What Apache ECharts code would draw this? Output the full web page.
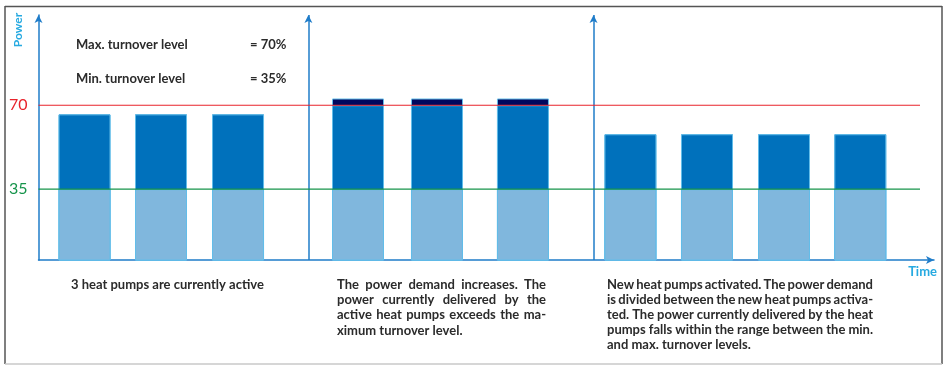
<!DOCTYPE html>
<html>
<head>
<meta charset="utf-8">
<script src="https://cdn.jsdelivr.net/npm/echarts@6/dist/echarts.min.js"></script>
<style>
  html, body { margin: 0; padding: 0; background: #ffffff; }
  #chart { width: 946px; height: 366px; }
</style>
</head>
<body>
<div id="chart"></div>
<script>
// Turnover levels, in percent of nominal power
const maxTurnover = 70;
const minTurnover = 35;

// Each heat pump bar: its position on the time axis and the power it delivers
const pumpTimes = [5.14, 13.68, 22.28, 35.68, 44.5, 54.1, 66.1, 74.65, 83.25, 91.77];
const pumpPower = [66.2, 66.2, 66.2, 72.8, 72.8, 72.8, 57.9, 57.9, 57.9, 57.9];

// Time at which the 2nd and 3rd phase begin, and where the level lines stop
const phaseStarts = [30.14, 61.98];
const levelLineEnd = 98.44;

// Axis extents
const timeRange = [0, 100];
const powerRange = [5.5, 107.6];

// Texts
const powerName = 'Power';
const timeName = 'Time';
const levelRows = [
  ['Max. turnover level', '= ' + maxTurnover + '%'],
  ['Min. turnover level', '= ' + minTurnover + '%']
];
const phaseNotes = [
  ['3 heat pumps are currently active'],
  ['The power demand increases. The',
   'power currently delivered by the',
   'active heat pumps exceeds the ma-',
   'ximum turnover level.'],
  ['New heat pumps activated. The power demand',
   'is divided between the new heat pumps activa-',
   'ted. The power currently delivered by the heat',
   'pumps falls within the range between the min.',
   'and max. turnover levels.']
];

// ---- styling ----
const AXIS_BLUE = '#1f7cc9';
const LABEL_BLUE = '#27aae1';
const TEXT_DARK = '#2b2b2b';
const BAR_EDGE = '#62bde9';
const NOTE_FONT = 'bold 13px Lato';

// Each bar is layered: full power (above max. shown in navy), capped at max. level (blue),
// capped at min. level (light blue). Later series are painted over earlier ones.
const totalLevel = pumpPower.slice();
const cappedAtMax = pumpPower.map(p => Math.min(p, maxTurnover));
const cappedAtMin = pumpPower.map(p => Math.min(p, minTurnover));
const pairs = arr => arr.map((v, i) => [pumpTimes[i], v]);

function barSeries(name, values, color) {
  return {
    name, type: 'bar', barWidth: 52, barGap: '-100%', z: 2,
    data: pairs(values),
    itemStyle: { color, borderColor: BAR_EDGE, borderWidth: 1 },
    silent: true, animation: false, clip: true
  };
}

// Horizontal level line with its value written left of the axis
function levelSeries(name, value, color) {
  return {
    name, type: 'line', z: 5, silent: true, animation: false, clip: false,
    symbol: 'circle', symbolSize: 0, showSymbol: true,
    itemStyle: { color },
    lineStyle: { color, width: 1.2, type: 'solid' },
    label: { show: false },
    data: [
      { value: [timeRange[0], value],
        label: { show: true, position: 'left', formatter: String(value), color,
                 fontFamily: 'Lato', fontSize: 16, distance: 11 } },
      { value: [levelLineEnd, value] }
    ]
  };
}

const seriesTotal = barSeries('total', totalLevel, '#00085e');
const seriesMax = barSeries('max', cappedAtMax, '#0071bc');
const seriesMin = barSeries('min', cappedAtMin, '#80b7dd');

// Vertical arrows marking the start of a new phase
seriesTotal.markLine = {
  silent: true, animation: false, symbol: ['none', 'arrow'], symbolSize: [6, 8],
  lineStyle: { color: AXIS_BLUE, width: 1.5, type: 'solid' },
  label: { show: false },
  data: phaseStarts.map(t => [{ coord: [t, powerRange[0]] }, { coord: [t, powerRange[1]] }])
};

// Annotation text, justified line by line like a typeset paragraph
const measure = document.createElement('canvas').getContext('2d');
function textEl(x, y, text, font, fill, align) {
  return { type: 'text', x, y, silent: true,
           style: { text, font, fill, align: align || 'left', verticalAlign: 'middle' } };
}
function paragraph(lines, box) {
  measure.font = NOTE_FONT;
  const out = [];
  lines.forEach((line, i) => {
    const y = box.y + i * box.lineHeight;
    const words = line.split(' ');
    if (i === lines.length - 1 || words.length < 2) {
      out.push(textEl(box.x, y, line, NOTE_FONT, TEXT_DARK));
      return;
    }
    const widths = words.map(w => measure.measureText(w).width);
    const gap = (box.width - widths.reduce((a, b) => a + b, 0)) / (words.length - 1);
    let x = box.x;
    words.forEach((w, k) => { out.push(textEl(x, y, w, NOTE_FONT, TEXT_DARK)); x += widths[k] + gap; });
  });
  return out;
}

const noteBoxes = [
  { x: 71, y: 285, width: 190, lineHeight: 15.5 },
  { x: 337, y: 284.5, width: 209, lineHeight: 15.4 },
  { x: 607, y: 284.5, width: 266, lineHeight: 15 }
];

const graphics = [
  // frame
  { type: 'line', silent: true, shape: { x1: 5, y1: 6.5, x2: 942, y2: 6.5 }, style: { stroke: '#555', lineWidth: 1.5 } },
  { type: 'line', silent: true, shape: { x1: 5, y1: 6, x2: 5, y2: 364 }, style: { stroke: '#555', lineWidth: 1.5 } },
  { type: 'line', silent: true, shape: { x1: 942, y1: 6, x2: 942, y2: 364 }, style: { stroke: '#555', lineWidth: 1.5 } },
  { type: 'line', silent: true, shape: { x1: 5, y1: 364, x2: 942, y2: 364 }, style: { stroke: '#c8c8c8', lineWidth: 1.5 } },
  // axis names
  { type: 'text', x: 18, y: 30, rotation: Math.PI / 2, silent: true,
    style: { text: powerName, font: 'bold 12px Lato', fill: LABEL_BLUE, align: 'center', verticalAlign: 'middle' } },
  textEl(937, 272, timeName, 'bold 13px Lato', LABEL_BLUE, 'right'),
  // turnover level legend
  ...levelRows.flatMap((row, i) => [
    textEl(76, 44.5 + i * 34.5, row[0], NOTE_FONT, TEXT_DARK),
    textEl(250, 44.5 + i * 34.5, row[1], NOTE_FONT, TEXT_DARK)
  ]),
  // phase notes
  ...phaseNotes.flatMap((lines, i) => paragraph(lines, noteBoxes[i]))
];

const chart = echarts.init(document.getElementById('chart'), null, { renderer: 'canvas' });
chart.setOption({
  animation: false,
  backgroundColor: '#ffffff',
  grid: { left: 38.5, right: 12, top: 15, bottom: 106, containLabel: false },
  xAxis: {
    type: 'value', min: timeRange[0], max: timeRange[1],
    axisLine: { show: true, onZero: false, symbol: ['none', 'arrow'], symbolSize: [6, 8],
                lineStyle: { color: AXIS_BLUE, width: 1.5 } },
    axisTick: { show: false }, axisLabel: { show: false }, splitLine: { show: false }
  },
  yAxis: {
    type: 'value', min: powerRange[0], max: powerRange[1],
    axisLine: { show: true, symbol: ['none', 'arrow'], symbolSize: [6, 8],
                lineStyle: { color: AXIS_BLUE, width: 1.5 } },
    axisTick: { show: false }, axisLabel: { show: false }, splitLine: { show: false }
  },
  series: [
    seriesTotal, seriesMax, seriesMin,
    levelSeries('max. turnover', maxTurnover, '#e8232b'),
    levelSeries('min. turnover', minTurnover, '#16944b')
  ],
  graphic: graphics
});
</script>
</body>
</html>
